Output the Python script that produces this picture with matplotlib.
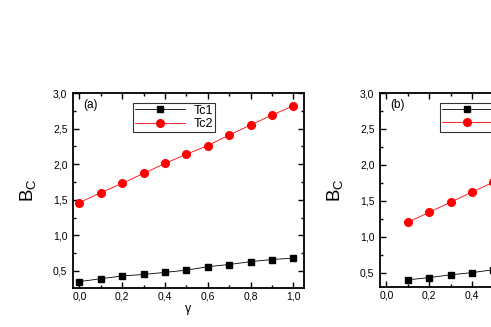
import matplotlib.pyplot as plt
from matplotlib.ticker import MultipleLocator, FuncFormatter

plt.rcParams['font.family'] = ['Liberation Sans', 'DejaVu Sans']

# panel (a)
gamma_a = [0.0, 0.1, 0.2, 0.3, 0.4, 0.5, 0.6, 0.7, 0.8, 0.9, 1.0]
tc1_a = [0.35, 0.39, 0.43, 0.45, 0.48, 0.51, 0.56, 0.59, 0.63, 0.66, 0.68]
tc2_a = [1.46, 1.60, 1.73, 1.87, 2.01, 2.14, 2.26, 2.41, 2.55, 2.69, 2.82]

# panel (b), only the visible part
gamma_b = [0.1, 0.2, 0.3, 0.4, 0.5]
tc1_b = [0.40, 0.43, 0.47, 0.50, 0.54]
tc2_b = [1.20, 1.34, 1.48, 1.62, 1.76]

comma = FuncFormatter(lambda v, p: ('%.1f' % v).replace('.', ','))

fig = plt.figure(figsize=(4.91, 3.27), dpi=100)
ax_a = fig.add_axes([73/491, 1 - 288/327, 231/491, 195/327])
ax_b = fig.add_axes([380/491, 1 - 287/327, 231/491, 194/327])

def style(ax, g, t1, t2, tag, ylow):
    ax.plot(g, t1, color='black', lw=0.6, marker='s', ms=4.3, label='Tc1')
    ax.plot(g, t2, color='red', lw=0.6, marker='o', ms=5.5, label='Tc2')
    ax.set_xlim(-0.03, 1.05)
    ax.set_ylim(ylow, 3.0)
    ax.xaxis.set_major_locator(MultipleLocator(0.2))
    ax.xaxis.set_minor_locator(MultipleLocator(0.1))
    ax.yaxis.set_major_locator(MultipleLocator(0.5))
    ax.yaxis.set_minor_locator(MultipleLocator(0.25))
    ax.xaxis.set_major_formatter(comma)
    ax.yaxis.set_major_formatter(comma)
    ax.tick_params(which='both', direction='in', top=True, right=True,
                   labelsize=7.5, width=1.0)
    ax.tick_params(axis='y', pad=4)
    ax.tick_params(axis='x', pad=2.5)
    ax.tick_params(which='major', length=4)
    ax.tick_params(which='minor', length=2)
    for s in ax.spines.values():
        s.set_linewidth(1.3)
    ax.text(0.045, 0.94, tag, transform=ax.transAxes, fontsize=8.5, va='center')
    ax.set_ylabel('B$_\\mathregular{C}$', fontsize=13.5, labelpad=10)
    ax.set_xlabel('γ', fontsize=9, labelpad=1)
    leg = ax.legend(loc='upper left', bbox_to_anchor=(0.26, 0.95), fontsize=9,
                    frameon=True, fancybox=False, edgecolor='black',
                    borderpad=0.15, labelspacing=0.1, handlelength=4.0,
                    handletextpad=0.7, borderaxespad=0)
    leg.get_frame().set_linewidth(0.8)

style(ax_a, gamma_a, tc1_a, tc2_a, '(a)', 0.26)
style(ax_b, gamma_b, tc1_b, tc2_b, '(b)', 0.30)

fig.savefig('out.png', dpi=100)
